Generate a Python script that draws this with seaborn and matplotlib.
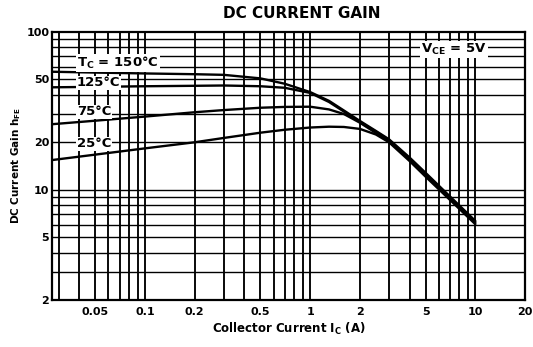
import matplotlib
matplotlib.use("Agg")
import matplotlib.pyplot as plt
from matplotlib.ticker import FixedLocator, NullFormatter
import numpy as np
import pandas as pd
import seaborn as sns

# Collector current (A)
ic = [0.027, 0.05, 0.1, 0.2, 0.3, 0.5, 0.7, 1.0, 1.3, 1.6, 2.0, 2.5, 3.0, 4.0, 5.0, 7.0, 10.0]

# DC current gain hFE for each case temperature
hfe_150 = [56.0, 55.3, 54.6, 54.0, 53.5, 50.8, 47.0, 41.6, 36.6, 31.8, 27.3, 23.6, 20.9, 16.0, 12.8, 9.10, 6.35]
hfe_125 = [44.6, 44.9, 45.3, 45.6, 45.8, 45.3, 44.3, 41.1, 36.0, 31.3, 26.9, 23.3, 20.6, 15.8, 12.6, 8.95, 6.25]
hfe_75 = [26.0, 27.4, 29.1, 31.0, 32.0, 33.1, 33.5, 33.6, 32.3, 30.2, 26.6, 22.9, 20.3, 15.5, 12.35, 8.80, 6.15]
hfe_25 = [15.4, 16.7, 18.3, 20.0, 21.3, 23.0, 24.0, 24.8, 25.1, 25.0, 24.3, 22.4, 20.0, 15.2, 12.1, 8.65, 6.05]

temps = ["150", "125", "75", "25"]
series = [hfe_150, hfe_125, hfe_75, hfe_25]

df = pd.DataFrame({
    "ic": np.tile(ic, len(temps)),
    "hfe": np.concatenate(series),
    "tc": np.repeat(temps, len(ic)),
})

sns.set_style("white")
plt.rcParams["font.family"] = ["DejaVu Sans"]
plt.rcParams["mathtext.default"] = "regular"
for key in ("text.color", "axes.labelcolor", "xtick.color", "ytick.color"):
    plt.rcParams[key] = "black"

fig = plt.figure(figsize=(5.33, 3.47), dpi=100)
ax = fig.add_axes([52 / 533, 47 / 347, 473 / 533, 268 / 347])

ax.set_xscale("log")
ax.set_yscale("log")
ax.set_xlim(0.0273, 20)
ax.set_ylim(2, 100)

# log grid: every 1..9 multiple in each decade
xgrid = [m * 10.0 ** e for e in range(-2, 2) for m in range(1, 10)]
ygrid = [m * 10.0 ** e for e in range(0, 3) for m in range(1, 10)]
for xv in xgrid:
    if 0.0273 < xv < 20:
        ax.axvline(xv, color="black", lw=1.35, zorder=1)
for yv in ygrid:
    if 2 < yv < 100:
        ax.axhline(yv, color="black", lw=1.0, zorder=1)

sns.lineplot(data=df, x="ic", y="hfe", hue="tc", units="tc", estimator=None,
             palette=["black"] * 4, legend=False, lw=1.7, ax=ax, zorder=3,
             sort=False)

xticks = [0.05, 0.1, 0.2, 0.5, 1, 2, 5, 10, 20]
xlabels = ["0.05", "0.1", "0.2", "0.5", "1", "2", "5", "10", "20"]
yticks = [2, 5, 10, 20, 50, 100]
ylabels = ["2", "5", "10", "20", "50", "100"]
ax.xaxis.set_major_locator(FixedLocator(xticks))
ax.xaxis.set_minor_locator(FixedLocator([]))
ax.xaxis.set_minor_formatter(NullFormatter())
ax.yaxis.set_major_locator(FixedLocator(yticks))
ax.yaxis.set_minor_locator(FixedLocator([]))
ax.yaxis.set_minor_formatter(NullFormatter())
ax.set_xticklabels(xlabels, fontsize=8, fontweight="bold")
ax.set_yticklabels(ylabels, fontsize=8, fontweight="bold")
ax.tick_params(axis="both", length=0, pad=2, colors="black")
ax.tick_params(axis="x", pad=5)

for s in ax.spines.values():
    s.set_linewidth(1.6)
    s.set_color("black")

ax.set_xlabel("Collector Current I$_C$ (A)", fontsize=8.5,
              fontweight="bold", labelpad=3)
ax.set_ylabel("DC Current Gain h$_{FE}$", fontsize=7.5,
              fontweight="bold", labelpad=2)
fig.text(302 / 533, 1 - 13 / 347, "DC CURRENT GAIN", ha="center", va="center",
         fontsize=11, fontweight="bold")

box = dict(facecolor="white", edgecolor="none", pad=0.6)
lab_kw = dict(fontsize=9.5, fontweight="bold", va="center", ha="left", zorder=4, bbox=box)
ax.text(0.0387, 63.5, "T$_C$ = 150°C", **lab_kw)
ax.text(0.0387, 47.5, "125°C", **lab_kw)
ax.text(0.0387, 31.2, "75°C", **lab_kw)
ax.text(0.0387, 19.5, "25°C", **lab_kw)
ax.text(4.7, 77.5, "V$_{CE}$ = 5V", **lab_kw)

fig.savefig("out.png", dpi=100)
